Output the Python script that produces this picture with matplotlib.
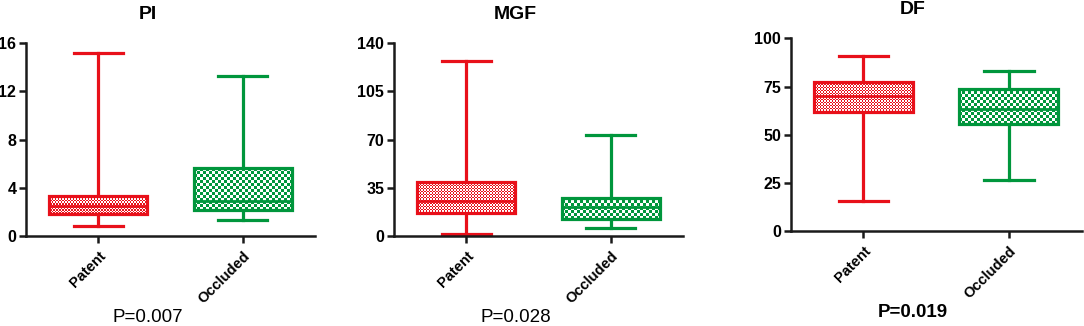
import numpy as np
import matplotlib.pyplot as plt
from matplotlib.colors import ListedColormap

plt.rcParams["font.family"] = ["Liberation Sans", "DejaVu Sans"]

# values: whisker low, Q1, median, Q3, whisker high
groups = ["Patent", "Occluded"]
titles = ["PI", "MGF", "DF"]
p_texts = ["P=0.007", "P=0.028", "P=0.019"]
p_bold = [False, False, True]

pi_low = [0.8, 1.3]
pi_q1 = [1.85, 2.15]
pi_med = [2.5, 2.9]
pi_q3 = [3.35, 5.6]
pi_high = [15.2, 13.3]

mgf_low = [1.2, 6.0]
mgf_q1 = [16.6, 12.4]
mgf_med = [25.4, 21.0]
mgf_q3 = [39.0, 27.7]
mgf_high = [127.0, 73.3]

df_low = [15.7, 26.8]
df_q1 = [62.0, 55.4]
df_med = [70.2, 63.4]
df_q3 = [77.4, 73.6]
df_high = [91.0, 83.0]

yticks = [[0, 4, 8, 12, 16], [0, 35, 70, 105, 140], [0, 25, 50, 75, 100]]

colors = ["#e8101a", "#00963c"]
square_px = [1.5, 3.0]  # checker square size in pixels

panels = [
    (pi_low, pi_q1, pi_med, pi_q3, pi_high),
    (mgf_low, mgf_q1, mgf_med, mgf_q3, mgf_high),
    (df_low, df_q1, df_med, df_q3, df_high),
]
# axes rectangles [left, bottom, width, height]
rects = [
    [0.024, 0.276, 0.2666, 0.592],
    [0.3635, 0.276, 0.2666, 0.592],
    [0.7294, 0.2905, 0.2685, 0.592],
]

fig = plt.figure(figsize=(10.84, 3.26), dpi=100)

for k in range(3):
    ax = fig.add_axes(rects[k])
    lo, q1, med, q3, hi = panels[k]
    stats = []
    for i in range(2):
        stats.append(dict(whislo=lo[i], q1=q1[i], med=med[i], q3=q3[i],
                          whishi=hi[i], fliers=[], label=groups[i]))
    bp = ax.bxp(stats, positions=[1, 2], widths=0.68, patch_artist=True,
                showfliers=False, manage_ticks=False)
    ax.set_xlim(0.5, 2.5)
    ax.set_ylim(yticks[k][0], yticks[k][-1])

    for i in range(2):
        c = colors[i]
        box = bp["boxes"][i]
        box.set_facecolor("none")
        box.set_edgecolor(c)
        box.set_linewidth(2.3)
        box.set_zorder(4)
        bp["medians"][i].set_color(c)
        bp["medians"][i].set_linewidth(2.0)
        bp["medians"][i].set_zorder(5)
        for w in bp["whiskers"][2 * i:2 * i + 2]:
            w.set_color(c)
            w.set_linewidth(2.3)
        for cp in bp["caps"][2 * i:2 * i + 2]:
            cp.set_color(c)
            cp.set_linewidth(2.3)

        # checkerboard fill inside the box
        verts = box.get_path().vertices
        x0, x1 = verts[:, 0].min(), verts[:, 0].max()
        p0 = ax.transData.transform((x0, q1[i]))
        p1 = ax.transData.transform((x1, q3[i]))
        nx = max(1, int(round(abs(p1[0] - p0[0]) / square_px[i])))
        ny = max(1, int(round(abs(p1[1] - p0[1]) / square_px[i])))
        checker = np.add.outer(np.arange(ny), np.arange(nx)) % 2
        ax.imshow(checker, extent=(x0, x1, q1[i], q3[i]), aspect="auto",
                  interpolation="nearest", origin="lower",
                  cmap=ListedColormap(["white", c]), zorder=3)
    ax.set_xlim(0.5, 2.5)
    ax.set_ylim(yticks[k][0], yticks[k][-1])

    for s in ["top", "right"]:
        ax.spines[s].set_visible(False)
    for s in ["left", "bottom"]:
        ax.spines[s].set_linewidth(1.8)
        ax.spines[s].set_color("#1a1a1a")
    ax.set_yticks(yticks[k])
    ax.set_yticklabels([str(v) for v in yticks[k]], fontsize=11.5,
                       fontweight="bold")
    ax.set_xticks([1, 2])
    ax.set_xticklabels(groups, rotation=45, ha="right",
                       rotation_mode="anchor", fontsize=10.5,
                       fontweight="bold")
    ax.tick_params(axis="both", direction="out", length=5, width=1.8,
                   color="#1a1a1a", pad=2)
    ax.tick_params(axis="x", pad=4)

    ax.text(0.42, 1.15, titles[k], transform=ax.transAxes, ha="center",
            va="center", fontsize=14, fontweight="bold")
    ax.text(0.42, -0.42, p_texts[k], transform=ax.transAxes, ha="center",
            va="center", fontsize=13.5,
            fontweight="bold" if p_bold[k] else "normal")

fig.savefig("out.png", dpi=100)
